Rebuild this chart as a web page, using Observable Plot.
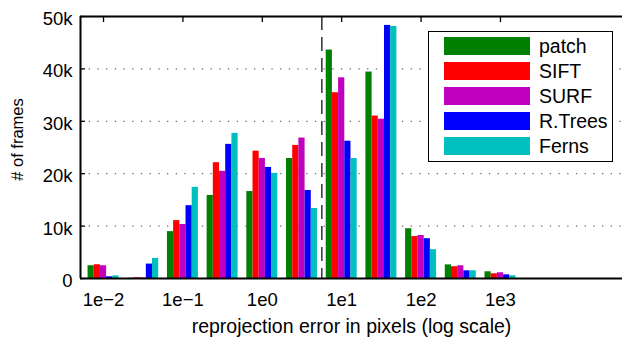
<!DOCTYPE html>
<html><head><meta charset="utf-8">
<script src="https://cdn.jsdelivr.net/npm/d3@7"></script>
<script src="https://cdn.jsdelivr.net/npm/@observablehq/plot@0.6"></script>
<style>
body{margin:0;background:#fff;}
#wrap{position:relative;width:622px;height:339px;font-family:"Liberation Sans",Arial,Helvetica,sans-serif;}
#legend{position:absolute;left:428px;top:31px;width:185px;height:131px;border:1.6px solid #000;background:#fff;box-sizing:border-box;}
.row{position:absolute;left:15px;height:18.4px;display:flex;align-items:center;}
.sw{width:86px;height:18.4px;}
.lab{margin-left:9px;font-size:19.5px;line-height:18.4px;color:#000;white-space:nowrap;}
</style></head>
<body><div id="wrap"><div id="legend"></div></div>
<script>
const series = ["patch", "SIFT", "SURF", "R.Trees", "Ferns"];
const colors = ["#008000", "#ff0000", "#bf00bf", "#0000ff", "#00bfbf"];
const binExponents = [-2, -1.5, -1, -0.5, 0, 0.5, 1, 1.5, 2, 2.5, 3];
const patch  = [2430,   50,  8950, 15850, 16600, 22900, 43600, 39400, 9500, 2600, 1280];
const sift   = [2620,  150, 11050, 22100, 24300, 25400, 35450, 31000, 8000, 2250,  900];
const surf   = [2430,  100, 10300, 20450, 22900, 26800, 38300, 30400, 8200, 2430, 1090];
const rtrees = [ 330, 2750, 13900, 25600, 21200, 16800, 26200, 48300, 7600, 1470,  700];
const ferns  = [ 500, 3830, 17400, 27700, 20060, 13350, 22900, 48100, 5500, 1470,  520];
const xTicks = [-2, -1, 0, 1, 2, 3];
const xTickLabels = ["1e\u22122", "1e\u22121", "1e0", "1e1", "1e2", "1e3"];
const yTicks = [0, 10000, 20000, 30000, 40000, 50000];
const yTickLabels = ["0", "10k", "20k", "30k", "40k", "50k"];
const thresholdExponent = 0.75;

const values = [patch, sift, surf, rtrees, ferns];
const xDomain = [-2.29, 4.537];
const yDomain = [0, 50000];
const groupWidth = 0.39;
const bw = groupWidth / series.length;
const bars = [];
binExponents.forEach((e, i) => {
  series.forEach((s, j) => {
    const x1 = e - groupWidth / 2 + j * bw;
    bars.push({series: s, x1, x2: x1 + bw, y: values[j][i]});
  });
});

const chart = Plot.plot({
  width: 622, height: 339,
  marginLeft: 80, marginRight: 0, marginTop: 16, marginBottom: 61,
  style: {fontSize: "18.5px", fontFamily: '"Liberation Sans", Arial, Helvetica, sans-serif', background: "#fff", color: "#000"},
  x: {type: "linear", domain: xDomain},
  y: {domain: yDomain},
  color: {domain: series, range: colors},
  marks: [
    Plot.gridY(yTicks, {stroke: "#444", strokeOpacity: 1, strokeDasharray: "1.3,7.4", strokeWidth: 1}),
    Plot.rectY(bars, {x1: "x1", x2: "x2", y: "y", fill: "series"}),
    Plot.ruleX([thresholdExponent], {stroke: "#222", strokeWidth: 1.4, strokeDasharray: "14,7"}),
    Plot.axisX(xTicks, {anchor: "top", tickSize: -5, tickFormat: () => "", label: null, strokeWidth: 1.3}),
    Plot.axisX(xTicks, {anchor: "bottom", tickSize: 0, tickPadding: 14,
      tickFormat: d => xTickLabels[xTicks.indexOf(d)],
      label: "reprojection error in pixels (log scale)", labelAnchor: "center", labelOffset: 54, labelArrow: "none"}),
    Plot.axisY(yTicks, {anchor: "left", tickSize: -5, tickFormat: () => "", label: null, strokeWidth: 1.3}),
    Plot.axisY(yTicks, {anchor: "left", tickSize: 0, tickPadding: 8, dy: 2.5,
      tickFormat: d => yTickLabels[yTicks.indexOf(d)],
      label: "# of frames", labelAnchor: "center", labelOffset: 69, labelArrow: "none"}),
    Plot.ruleY(yDomain, {stroke: "#000", strokeWidth: 2}),
    Plot.ruleX([xDomain[0]], {stroke: "#000", strokeWidth: 2})
  ]
});
d3.select(chart).selectAll('g[aria-label="x-axis label"]').attr("font-size", "19.5px");
d3.select(chart).selectAll('g[aria-label="y-axis label"]').attr("font-size", "16.5px")
  .attr("transform", function() { return (this.getAttribute("transform") || "") + " translate(0,-8)"; });
const wrap = document.getElementById("wrap");
wrap.insertBefore(chart, wrap.firstChild);

const legend = document.getElementById("legend");
series.forEach((s, j) => {
  const row = document.createElement("div");
  row.className = "row";
  row.style.top = (5 + j * 25) + "px";
  const sw = document.createElement("div");
  sw.className = "sw"; sw.style.background = colors[j];
  const lab = document.createElement("span");
  lab.className = "lab"; lab.textContent = s;
  row.appendChild(sw); row.appendChild(lab);
  legend.appendChild(row);
});
</script>
</body></html>
